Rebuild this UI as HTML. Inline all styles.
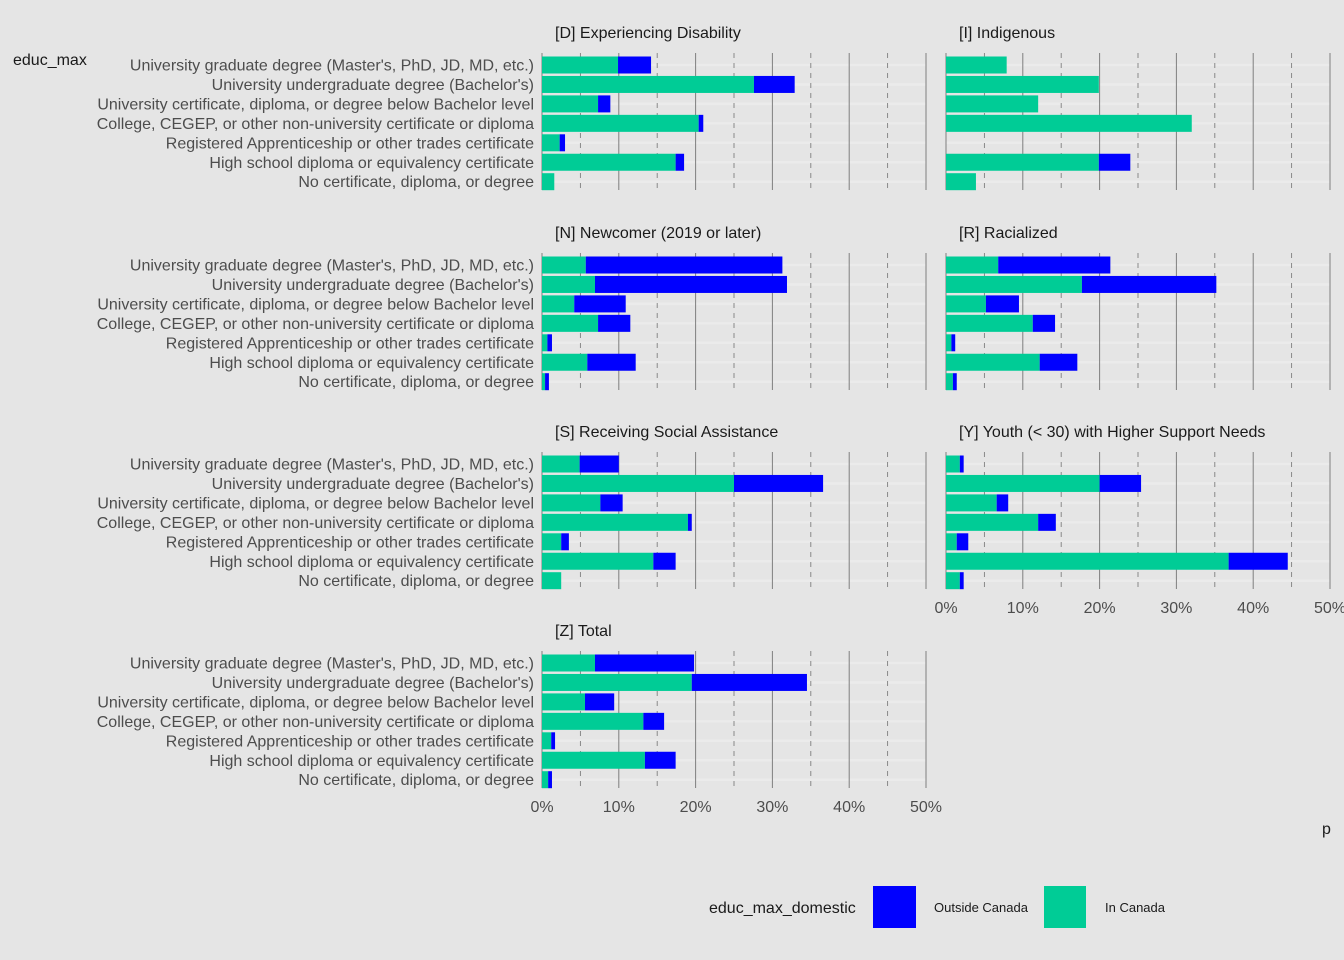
<!DOCTYPE html>
<html><head><meta charset="utf-8"><style>
html,body{margin:0;background:#e5e5e5;overflow:hidden;}
svg{display:block;font-family:"Liberation Sans",Arial,sans-serif;}
</style></head><body>
<svg id="chart" width="1344" height="960">
<rect width="1344" height="960" fill="#e5e5e5"/>
<text x="13" y="65" font-size="16" fill="#1a1a1a">educ_max</text>
<text x="1322" y="834" font-size="16" fill="#1a1a1a">p</text>
<g>
<text x="709" y="913" font-size="16" fill="#1a1a1a">educ_max_domestic</text>
<rect x="873" y="886" width="43" height="42" fill="#0000ff"/>
<text x="934" y="912" font-size="13" fill="#1a1a1a">Outside Canada</text>
<rect x="1044" y="886" width="42" height="42" fill="#00cc96"/>
<text x="1105" y="912" font-size="13" fill="#1a1a1a">In Canada</text>
</g>
</svg>
<script>
const categories=["University graduate degree (Master's, PhD, JD, MD, etc.)","University undergraduate degree (Bachelor's)","University certificate, diploma, or degree below Bachelor level","College, CEGEP, or other non-university certificate or diploma","Registered Apprenticeship or other trades certificate","High school diploma or equivalency certificate","No certificate, diploma, or degree"];
const panelTitles=["[D] Experiencing Disability","[I] Indigenous","[N] Newcomer (2019 or later)","[R] Racialized","[S] Receiving Social Assistance","[Y] Youth (< 30) with Higher Support Needs","[Z] Total"];
const inCanada=[
[9.9,27.6,7.3,20.4,2.3,17.4,1.6],
[7.9,19.9,12.0,32.0,0,19.9,3.9],
[5.7,6.9,4.2,7.3,0.7,5.9,0.4],
[6.8,17.7,5.2,11.3,0.7,12.2,0.9],
[4.9,25.0,7.6,19.0,2.5,14.5,2.5],
[1.8,20.0,6.6,12.0,1.4,36.8,1.8],
[6.9,19.5,5.6,13.2,1.2,13.4,0.8]];
const outsideCanada=[
[4.3,5.3,1.6,0.6,0.7,1.1,0],
[0,0,0,0,0,4.1,0],
[25.6,25.0,6.7,4.2,0.6,6.3,0.5],
[14.6,17.5,4.3,2.9,0.5,4.9,0.5],
[5.1,11.6,2.9,0.5,1.0,2.9,0],
[0.5,5.4,1.5,2.3,1.5,7.7,0.5],
[12.9,15.0,3.8,2.7,0.5,4.0,0.5]];
const tickLabels=["0%","10%","20%","30%","40%","50%"];
const tickValues=[0,10,20,30,40,50];

const svg=document.getElementById('chart');
const NS='http://www.w3.org/2000/svg';
function mk(t,a,p){const e=document.createElementNS(NS,t);for(const k in a)e.setAttribute(k,a[k]);(p||svg).appendChild(e);return e;}
const colX=[542,946], rowTop=[53,253,452,651], PH=140, PW=384;
function xs(col,v){return colX[col]+v*PW/50;}
function ys(row,i){return rowTop[row]+12+i*19.45;}
panelTitles.forEach((title,p)=>{
  const col=p%2,row=Math.floor(p/2);
  const g=mk('g',{});
  
  
  const t=mk('text',{x:colX[col]+13,y:rowTop[row]-15,'font-size':16,fill:'#1a1a1a'},g);t.textContent=title;
  
  categories.forEach((c,i)=>mk('line',{x1:colX[col],x2:colX[col]+PW,y1:ys(row,i),y2:ys(row,i),stroke:'#ebebeb','stroke-width':2.5},g));
  for(let v=0;v<=50;v+=5){
    const major=v%10==0;
    mk('line',{x1:xs(col,v),x2:xs(col,v),y1:rowTop[row],y2:rowTop[row]+PH-3,stroke:'#7f7f7f','stroke-width':major?1:0.9,'stroke-dasharray':major?'':'5,5'},g);
  }
  categories.forEach((c,i)=>{
    const y=ys(row,i), a=inCanada[p][i], b=outsideCanada[p][i];
    const r1=mk('rect',{x:xs(col,0),y:y-8.5,width:xs(col,a)-xs(col,0),height:17,fill:'#00cc96'},g);
    
    const r2=mk('rect',{x:xs(col,a),y:y-8.5,width:xs(col,a+b)-xs(col,a),height:17,fill:'#0000ff'},g);
    
  });
  if(col==0){categories.forEach((c,i)=>{const l=mk('text',{x:534,y:ys(row,i)+5.5,'text-anchor':'end','font-size':16,fill:'#4d4d4d'},g);l.textContent=c;
    });}
  const showAxis=(p==5||p==6);
  if(showAxis){tickValues.forEach((v,k)=>{const l=mk('text',{x:xs(col,v),y:rowTop[row]+PH+21,'text-anchor':'middle','font-size':16,fill:'#4d4d4d'},g);l.textContent=tickLabels[k];
    });}
});
</script>
</body></html>
